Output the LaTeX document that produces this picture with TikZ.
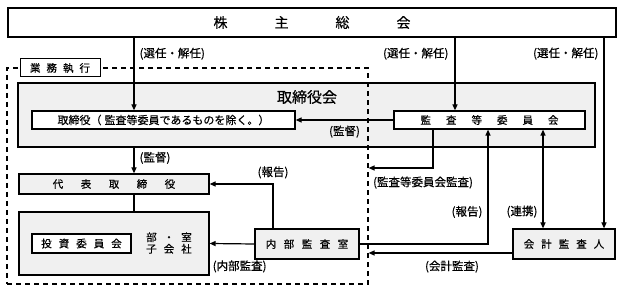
\documentclass[tikz,border=0pt]{standalone}
\usepackage{fontspec}
\newfontfamily\jpfont{Noto Sans CJK JP}[FakeBold=0.4]
\usetikzlibrary{arrows.meta}
\definecolor{boxgray}{RGB}{240,240,240}
\tikzset{
  box/.style={draw, line width=1.2pt, inner sep=0pt, fill=white},
  graybox/.style={box, fill=boxgray},
  conn/.style={line width=1.2pt},
  arr/.style={conn, -{Triangle[length=6pt,width=5pt]}},
  biarr/.style={conn, {Triangle[length=6pt,width=5pt]}-{Triangle[length=6pt,width=5pt]}},
  lbl/.style={font=\jpfont\fontsize{11.5}{13}\selectfont, inner sep=2pt},
}
\begin{document}
\begin{tikzpicture}[x=1pt,y=-1pt,every node/.style={font=\jpfont\fontsize{10.5}{12}\selectfont}]
\useasboundingbox (0,0) rectangle (624,291);
\node[box, line width=1.5pt, minimum width=608, minimum height=29, font=\jpfont\fontsize{14}{16}\selectfont] (soukai) at (312,22.5) {株\hspace{47pt}主\hspace{47pt}総\hspace{47pt}会};
\node[graybox, minimum width=577, minimum height=64] (torikai) at (306.5,115) {};
\node[font=\jpfont\fontsize{15}{17}\selectfont] (torikaititle) at (307,97) {取締役会};
\node[draw, line width=1.1pt, dash pattern=on 5pt off 4pt, minimum width=361, minimum height=216, inner sep=0pt] (gyomu) at (187.5,176) {};
\node[box, line width=1pt, minimum width=80, minimum height=18] (gyomulbl) at (60,68) {業\hspace{6pt}務\hspace{6pt}執\hspace{6pt}行};
\node[box, minimum width=263, minimum height=18, font=\jpfont\fontsize{11}{13}\selectfont] (tori) at (163.5,120) {取締役（\hspace{3pt}監査等委員であるものを除く。）\hspace{6pt}};
\node[box, minimum width=191, minimum height=18] (kansa) at (489.5,120) {監\hspace{15pt}査\hspace{15pt}等\hspace{15pt}委\hspace{15pt}員\hspace{15pt}会\hspace{16pt}};
\node[graybox, minimum width=190, minimum height=20] (daihyo) at (114,184) {代\hspace{17.5pt}表\hspace{17.5pt}取\hspace{17.5pt}締\hspace{17.5pt}役};
\node[graybox, minimum width=190, minimum height=63] (bushitsu) at (114,243.5) {};
\node[box, minimum width=99, minimum height=19] (toushi) at (81.5,243.5) {投\hspace{7pt}資\hspace{7pt}委\hspace{7pt}員\hspace{7pt}会};
\node[align=center, inner sep=0pt, font=\jpfont\fontsize{10.5}{11.6}\selectfont] (butext) at (169,243) {部\hspace{7pt}・\hspace{7pt}室\\子\hspace{7pt}会\hspace{7pt}社};
\node[graybox, minimum width=104, minimum height=30] (naibu) at (307,244) {内\hspace{7.5pt}部\hspace{7.5pt}監\hspace{7.5pt}査\hspace{7.5pt}室};
\node[graybox, minimum width=102, minimum height=30] (kaikei) at (564,244) {会\hspace{7pt}計\hspace{7pt}監\hspace{7pt}査\hspace{7pt}人};
% x / y positions of the connectors
\coordinate (xtori) at (134,0);
\coordinate (xkansa) at (455,0);
\coordinate (xkaikei) at (604,0);
\coordinate (xhoukoku) at (273,0);
\coordinate (xkansasa) at (433,0);
\coordinate (xnaibu) at (488,0);
\coordinate (xrenkei) at (543,0);
\coordinate (ykansasa) at (0,168);
\coordinate (ykaikei) at (0,253);
\draw[arr] (soukai.south -| xtori) -- node[lbl, pos=0.22, right=3pt] {(選任・解任)} (tori.north -| xtori);
\draw[arr] (soukai.south -| xkansa) -- node[lbl, pos=0.22, left=4pt] {(選任・解任)} (kansa.north -| xkansa);
\draw[arr] (soukai.south -| xkaikei) -- node[lbl, pos=0.083, left=3pt] {(選任・解任)} (kaikei.north -| xkaikei);
\draw[arr] (kansa.west) -- node[lbl, below=3pt] {(監督)} (tori.east);
\draw[arr] (torikai.south -| xtori) -- node[lbl, pos=0.4, right=3pt] {(監督)} (daihyo.north -| xtori);
\draw[conn] (daihyo.south -| xtori) -- (bushitsu.north -| xtori);
\draw[arr] (naibu.north -| xhoukoku) |- node[lbl, pos=0.5, above=3pt] {(報告)} (daihyo.east);
\draw[arr] (naibu.west) -- node[lbl, pos=0.33, below=14pt] {(内部監査)} (bushitsu.east);
\draw[arr] (kansa.south -| xkansasa) |- node[lbl, pos=1, below right, xshift=2pt, yshift=-6pt] {(監査等委員会監査)} (gyomu.east |- ykansasa);
\draw[arr] (naibu.east) -| node[lbl, pos=0.64, left=3pt] {(報告)} (kansa.south -| xnaibu);
\draw[biarr] (kansa.south -| xrenkei) -- node[lbl, pos=0.83, left=3pt] {(連携)} (kaikei.north -| xrenkei);
\draw[arr] (kaikei.west |- ykaikei) -- node[lbl, pos=0.42, below=5pt] {(会計監査)} (gyomu.east |- ykaikei);
\end{tikzpicture}
\end{document}
